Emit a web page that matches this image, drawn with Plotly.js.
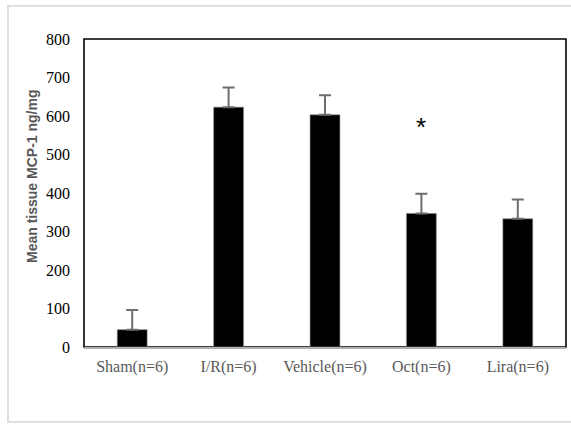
<!DOCTYPE html>
<html>
<head>
<meta charset="utf-8">
<script src="https://cdn.plot.ly/plotly-3.0.1.min.js"></script>
<style>
  html, body { margin: 0; padding: 0; background: #fff; }
  #wrap { position: relative; width: 571px; height: 425px; overflow: hidden; }
  #chart { position: absolute; left: 0; top: 0; width: 571px; height: 425px; }
  #frame { position: absolute; left: 7px; top: 5px; width: 570px; height: 418px;
           border: 2px solid #dedede; box-sizing: border-box; pointer-events: none; }
</style>
</head>
<body>
<div id="wrap">
  <div id="chart"></div>
  <div id="frame"></div>
</div>
<script>
const categories = ["Sham(n=6)", "I/R(n=6)", "Vehicle(n=6)", "Oct(n=6)", "Lira(n=6)"];
const meanValues = [45, 623, 603, 347, 333];
const errorValues = [51, 51, 51, 51, 50];
const yTickValues = [0, 100, 200, 300, 400, 500, 600, 700, 800];
const sigCategory = ["Oct(n=6)"];
const sigY = [572];
const sigText = ["*"];
const yTitle = "Mean tissue MCP-1 ng/mg";

const serif = "'Liberation Serif', 'Times New Roman', Times, serif";
const sans = "'Liberation Sans', Arial, sans-serif";

const trace = {
  type: "bar",
  x: categories,
  y: meanValues,
  marker: { color: "#000000", line: { color: "#8c8c8c", width: 0.6 } },
  error_y: {
    type: "data",
    symmetric: false,
    array: errorValues,
    arrayminus: meanValues.map(() => 0),
    color: "#6e6e6e",
    thickness: 2,
    width: 6
  },
  hoverinfo: "none"
};

const annotations = sigCategory.map((c, i) => ({
  x: c, y: sigY[i], xref: "x", yref: "y",
  text: sigText[i], showarrow: false,
  font: { family: sans, size: 26, color: "#000" },
  xanchor: "center", yanchor: "middle"
}));
annotations.push({
  x: 32, y: 177, xref: "paper", yref: "paper",
  text: "<b>" + yTitle + "</b>", showarrow: false, textangle: -90,
  font: { family: sans, size: 14, color: "#595959" },
  xanchor: "center", yanchor: "middle"
});

const layout = {
  width: 571, height: 425,
  margin: { l: 84, r: 5, t: 39, b: 78, pad: 0 },
  paper_bgcolor: "#ffffff",
  plot_bgcolor: "#ffffff",
  showlegend: false,
  bargap: 0.69,
  xaxis: {
    type: "category",
    showline: true, linecolor: "#b0b0b0", linewidth: 1.5,
    showgrid: false, zeroline: false, ticks: "",
    tickfont: { family: serif, size: 16, color: "#595959" },
    ticklabelstandoff: 4,
    fixedrange: true
  },
  yaxis: {
    range: [0, 800],
    tickvals: yTickValues,
    ticktext: yTickValues.map(String),
    showgrid: false, zeroline: false, showline: false, ticks: "",
    tickfont: { family: serif, size: 16, color: "#000000" },
    ticklabelstandoff: 13,
    fixedrange: true
  },
  shapes: [{
    type: "rect", xref: "paper", yref: "paper", x0: 0, x1: 1, y0: 0, y1: 1,
    line: { color: "#000000", width: 1.6 }, fillcolor: "rgba(0,0,0,0)", layer: "below"
  }],
  annotations: annotations
};

// convert the y-title annotation pixel position to paper coords
(function () {
  const pw = layout.width - layout.margin.l - layout.margin.r;
  const ph = layout.height - layout.margin.t - layout.margin.b;
  const a = layout.annotations[layout.annotations.length - 1];
  a.x = (a.x - layout.margin.l) / pw;
  a.y = (layout.height - layout.margin.b - a.y) / ph;
})();

Plotly.newPlot("chart", [trace], layout, { displayModeBar: false, staticPlot: true });
</script>
</body>
</html>
